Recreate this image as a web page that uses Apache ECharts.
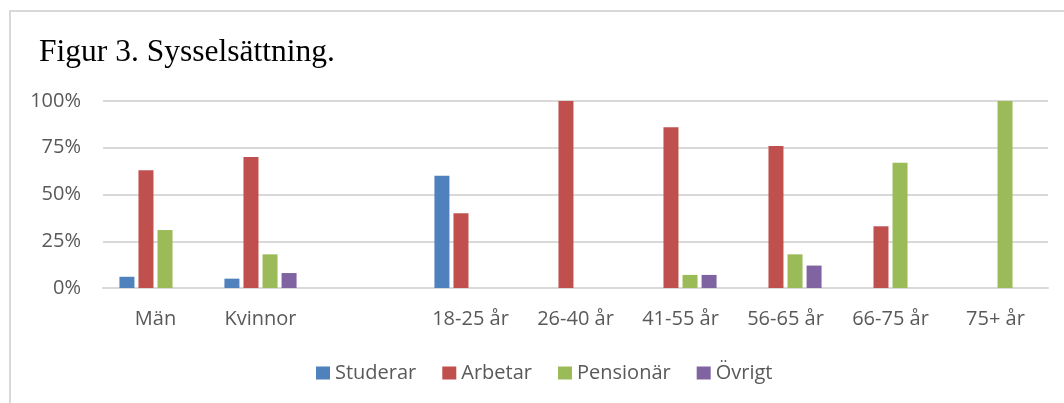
<!DOCTYPE html>
<html lang="sv">
<head>
<meta charset="UTF-8">
<title>Figur 3. Sysselsättning.</title>
<script src="https://cdn.jsdelivr.net/npm/echarts@6/dist/echarts.min.js"></script>
<style>
  * { margin: 0; padding: 0; box-sizing: border-box; }
  body { width: 1064px; height: 403px; background: #fff; overflow: hidden; position: relative; }
  .frame {
    position: absolute; left: 9px; top: 10px; right: -2px; bottom: -2px;
    border-left: 2px solid #d9d9d9; border-top: 2px solid #d9d9d9;
  }
  #chart { position: absolute; left: 0; top: 0; width: 1064px; height: 403px; }
</style>
</head>
<body>
<div class="frame"></div>
<div id="chart"></div>
<script>
  // kategorier (tom kategori mellan kön och åldersgrupper)
  const categories = ['Män', 'Kvinnor', '', '18-25 år', '26-40 år', '41-55 år', '56-65 år', '66-75 år', '75+ år'];

  // andelar i procent
  const studerar  = [6, 5, null, 60, 0, 0, 0, 0, 0];
  const arbetar   = [63, 70, null, 40, 100, 86, 76, 33, 0];
  const pensionar = [31, 18, null, 0, 0, 7, 18, 67, 100];
  const ovrigt    = [0, 8, null, 0, 0, 7, 12, 0, 0];

  const yTicks = [0, 25, 50, 75, 100];

  const font = '"Open Sans", "Noto Sans", sans-serif';
  const textColor = '#595959';

  const bar = (name, data, color) => ({
    name,
    type: 'bar',
    data,
    barWidth: 15,
    barGap: '27%',
    itemStyle: { color },
    emphasis: { disabled: true }
  });

  const chart = echarts.init(document.getElementById('chart'), null, { renderer: 'canvas' });

  chart.setOption({
    animation: false,
    title: {
      text: 'Figur 3. Sysselsättning.',
      left: 34,
      top: 32,
      textStyle: {
        fontFamily: '"Liberation Serif", "Times New Roman", serif',
        fontSize: 31.5,
        fontWeight: 'normal',
        color: '#000'
      }
    },
    legend: {
      left: 316,
      top: 363,
      padding: 0,
      itemWidth: 14,
      itemHeight: 13,
      itemGap: 26,
      icon: 'rect',
      textStyle: { fontFamily: font, fontSize: 20, color: textColor },
      data: ['Studerar', 'Arbetar', 'Pensionär', 'Övrigt']
    },
    grid: { left: 103, right: 16, top: 101, bottom: 115, containLabel: false },
    xAxis: {
      type: 'category',
      data: categories,
      axisLine: { show: true, lineStyle: { color: '#d9d9d9', width: 2 } },
      axisTick: { show: false },
      axisLabel: { fontFamily: font, fontSize: 20, color: textColor, margin: 21, interval: 0 }
    },
    yAxis: {
      type: 'value',
      min: yTicks[0],
      max: yTicks[yTicks.length - 1],
      interval: 25,
      axisLine: { show: false },
      axisTick: { show: false },
      axisLabel: { fontFamily: font, fontSize: 20, color: textColor, margin: 22, formatter: '{value}%' },
      splitLine: { lineStyle: { color: '#d9d9d9', width: 2 } }
    },
    series: [
      bar('Studerar', studerar, '#4f81bd'),
      bar('Arbetar', arbetar, '#c0504d'),
      bar('Pensionär', pensionar, '#9bbb59'),
      bar('Övrigt', ovrigt, '#8064a2')
    ]
  });
</script>
</body>
</html>
